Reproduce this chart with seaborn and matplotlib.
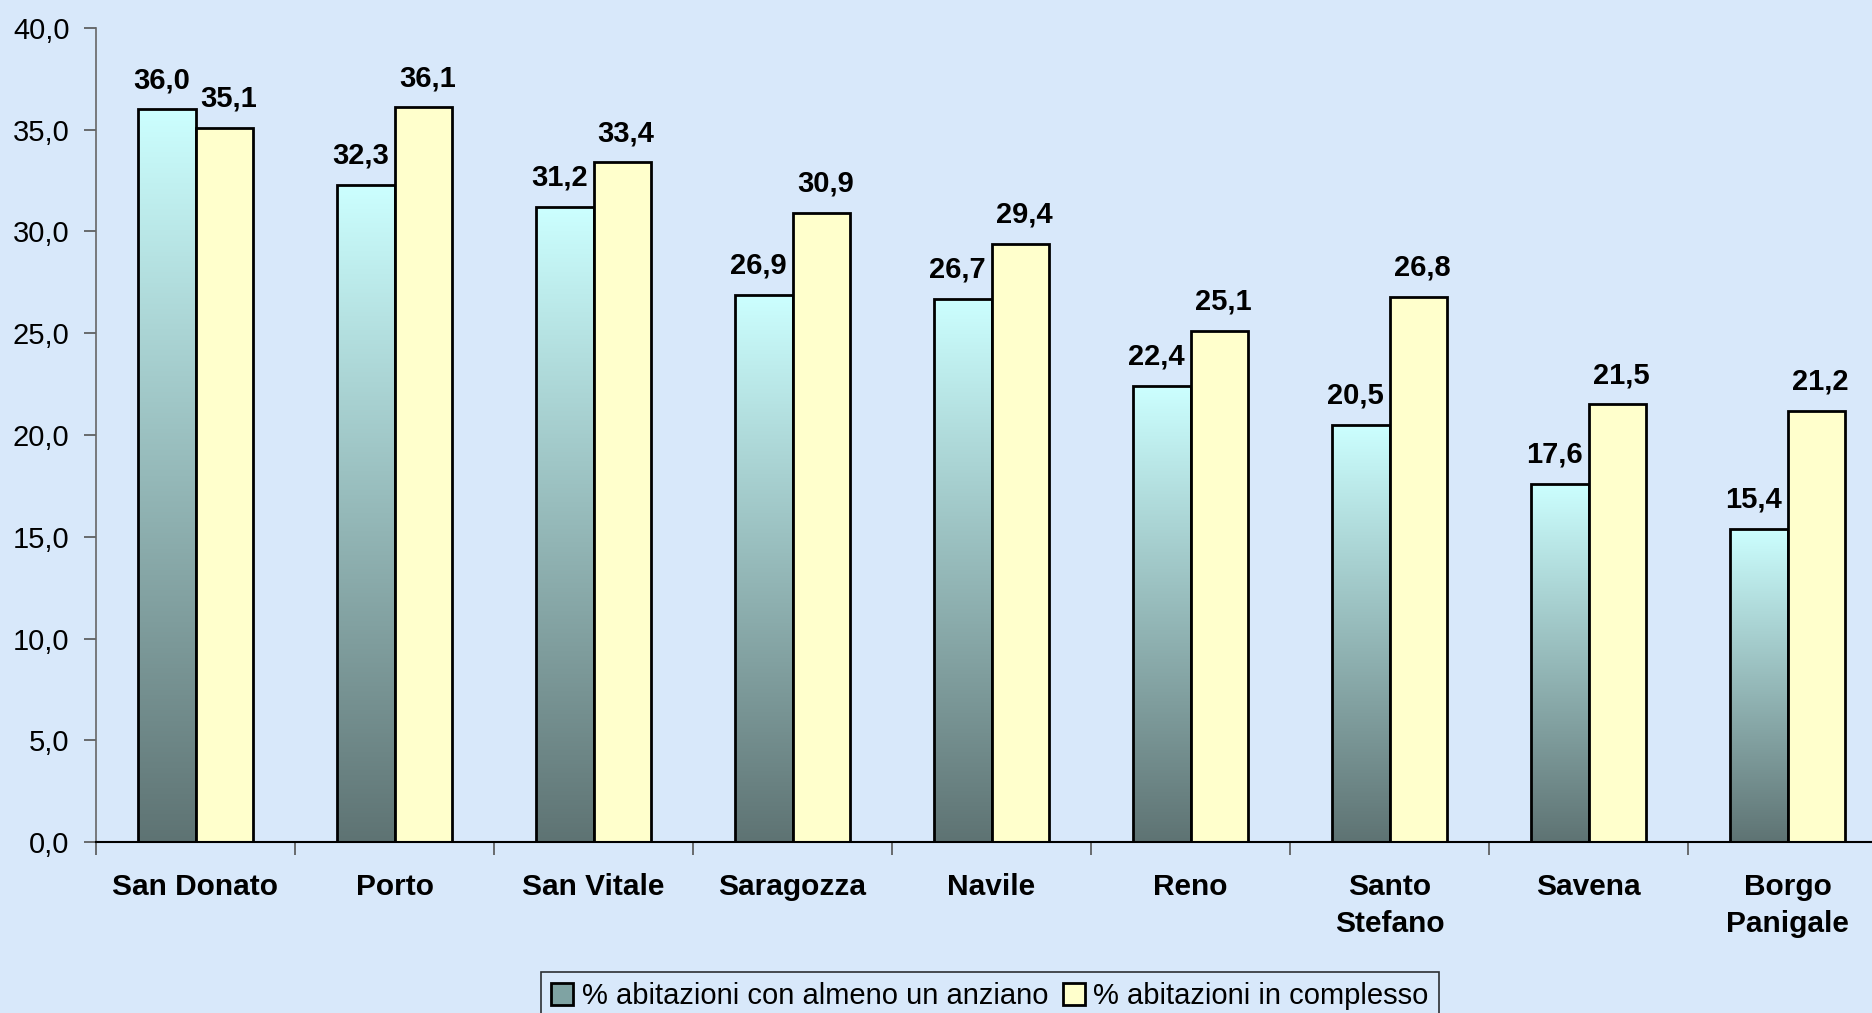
import numpy as np
import pandas as pd
import matplotlib
matplotlib.use("Agg")
import matplotlib.pyplot as plt
from matplotlib.colors import LinearSegmentedColormap
from matplotlib.ticker import FuncFormatter, FixedLocator
import seaborn as sns

# dati per quartiere
quartieri = ["San Donato", "Porto", "San Vitale", "Saragozza", "Navile",
             "Reno", "Santo\nStefano", "Savena", "Borgo\nPanigale"]
con_anziano = [36.0, 32.3, 31.2, 26.9, 26.7, 22.4, 20.5, 17.6, 15.4]
in_complesso = [35.1, 36.1, 33.4, 30.9, 29.4, 25.1, 26.8, 21.5, 21.2]
serie = ["% abitazioni con almeno un anziano", "% abitazioni in complesso"]

df = pd.DataFrame({
    "quartiere": quartieri * 2,
    "valore": con_anziano + in_complesso,
    "serie": [serie[0]] * len(quartieri) + [serie[1]] * len(quartieri),
})


def fmt_it(v):
    return f"{v:.1f}".replace(".", ",")


sns.set_theme(style="white")
plt.rcParams["font.family"] = ["Liberation Sans", "DejaVu Sans"]
plt.rcParams["text.color"] = "black"
plt.rcParams["xtick.color"] = "black"
plt.rcParams["ytick.color"] = "black"

bg = "#d8e8fa"
fig = plt.figure(figsize=(18.72, 10.13), dpi=100, facecolor=bg)
ax = fig.add_axes([96 / 1872, 171 / 1013, 1791 / 1872, 814 / 1013])
ax.set_facecolor("none")

sns.barplot(data=df, x="quartiere", y="valore", hue="serie",
            palette=["#ccffff", "#ffffcc"], width=0.573, gap=0,
            saturation=1, edgecolor="black", linewidth=2.0, ax=ax)

# sfumatura sulle barre della prima serie
grad = LinearSegmentedColormap.from_list("grad", ["#5e7373", "#ccffff"])
ramp = np.linspace(0, 1, 256).reshape(-1, 1)
for bar in ax.containers[0]:
    x0, w, h = bar.get_x(), bar.get_width(), bar.get_height()
    im = ax.imshow(ramp, cmap=grad, origin="lower", aspect="auto",
                   extent=[x0, x0 + w, 0, h], zorder=bar.get_zorder() - 0.1)
    im.set_clip_path(bar)
    bar.set_facecolor("none")

ax.set_xlim(-0.5, 8.5)
ax.set_ylim(0, 40)
ax.set_xlabel("")
ax.set_ylabel("")

# etichette valori, leggermente scostate come in Excel
for cont, dx in zip(ax.containers, [-4, 3]):
    anns = ax.bar_label(cont, labels=[fmt_it(v) for v in cont.datavalues],
                        padding=11, fontsize=21, fontweight="bold",
                        color="black")
    for a in anns:
        a.xyann = (dx, 11)

# assi
ax.set_yticks(np.arange(0, 41, 5))
ax.yaxis.set_major_formatter(FuncFormatter(lambda v, p: fmt_it(v)))
ax.tick_params(axis="y", left=True, direction="out", length=9, width=1.2,
               color="#555555", labelcolor="black", labelsize=21, pad=10)
ax.tick_params(axis="x", which="major", bottom=True, length=0, pad=22,
               labelcolor="black", labelsize=21.5)
ax.xaxis.set_minor_locator(FixedLocator(np.arange(-0.5, 9, 1)))
ax.tick_params(axis="x", which="minor", bottom=True, direction="out",
               length=9, width=1.2, color="#555555")
for t in ax.get_xticklabels():
    t.set_fontweight("bold")
    t.set_linespacing(1.45)

for s in ["top", "right"]:
    ax.spines[s].set_visible(False)
ax.spines["left"].set_color("#666666")
ax.spines["left"].set_linewidth(1.2)
ax.spines["bottom"].set_color("black")
ax.spines["bottom"].set_linewidth(1.5)

# legenda
handles, labels = ax.get_legend_handles_labels()
ax.legend_.remove()
handles[0].set_facecolor("#7fa3a3")
leg = fig.legend(handles, labels, loc="upper center",
                 bbox_to_anchor=(990 / 1872, 1 - 972 / 1013), ncol=2,
                 frameon=True, fancybox=False, edgecolor="black",
                 fontsize=21, handlelength=0.75, handleheight=0.75,
                 handletextpad=0.3, columnspacing=0.5, borderpad=0.35,
                 borderaxespad=0)
leg.get_frame().set_facecolor(bg)
leg.get_frame().set_linewidth(1.2)

fig.savefig("out.png", dpi=100, facecolor=bg)
